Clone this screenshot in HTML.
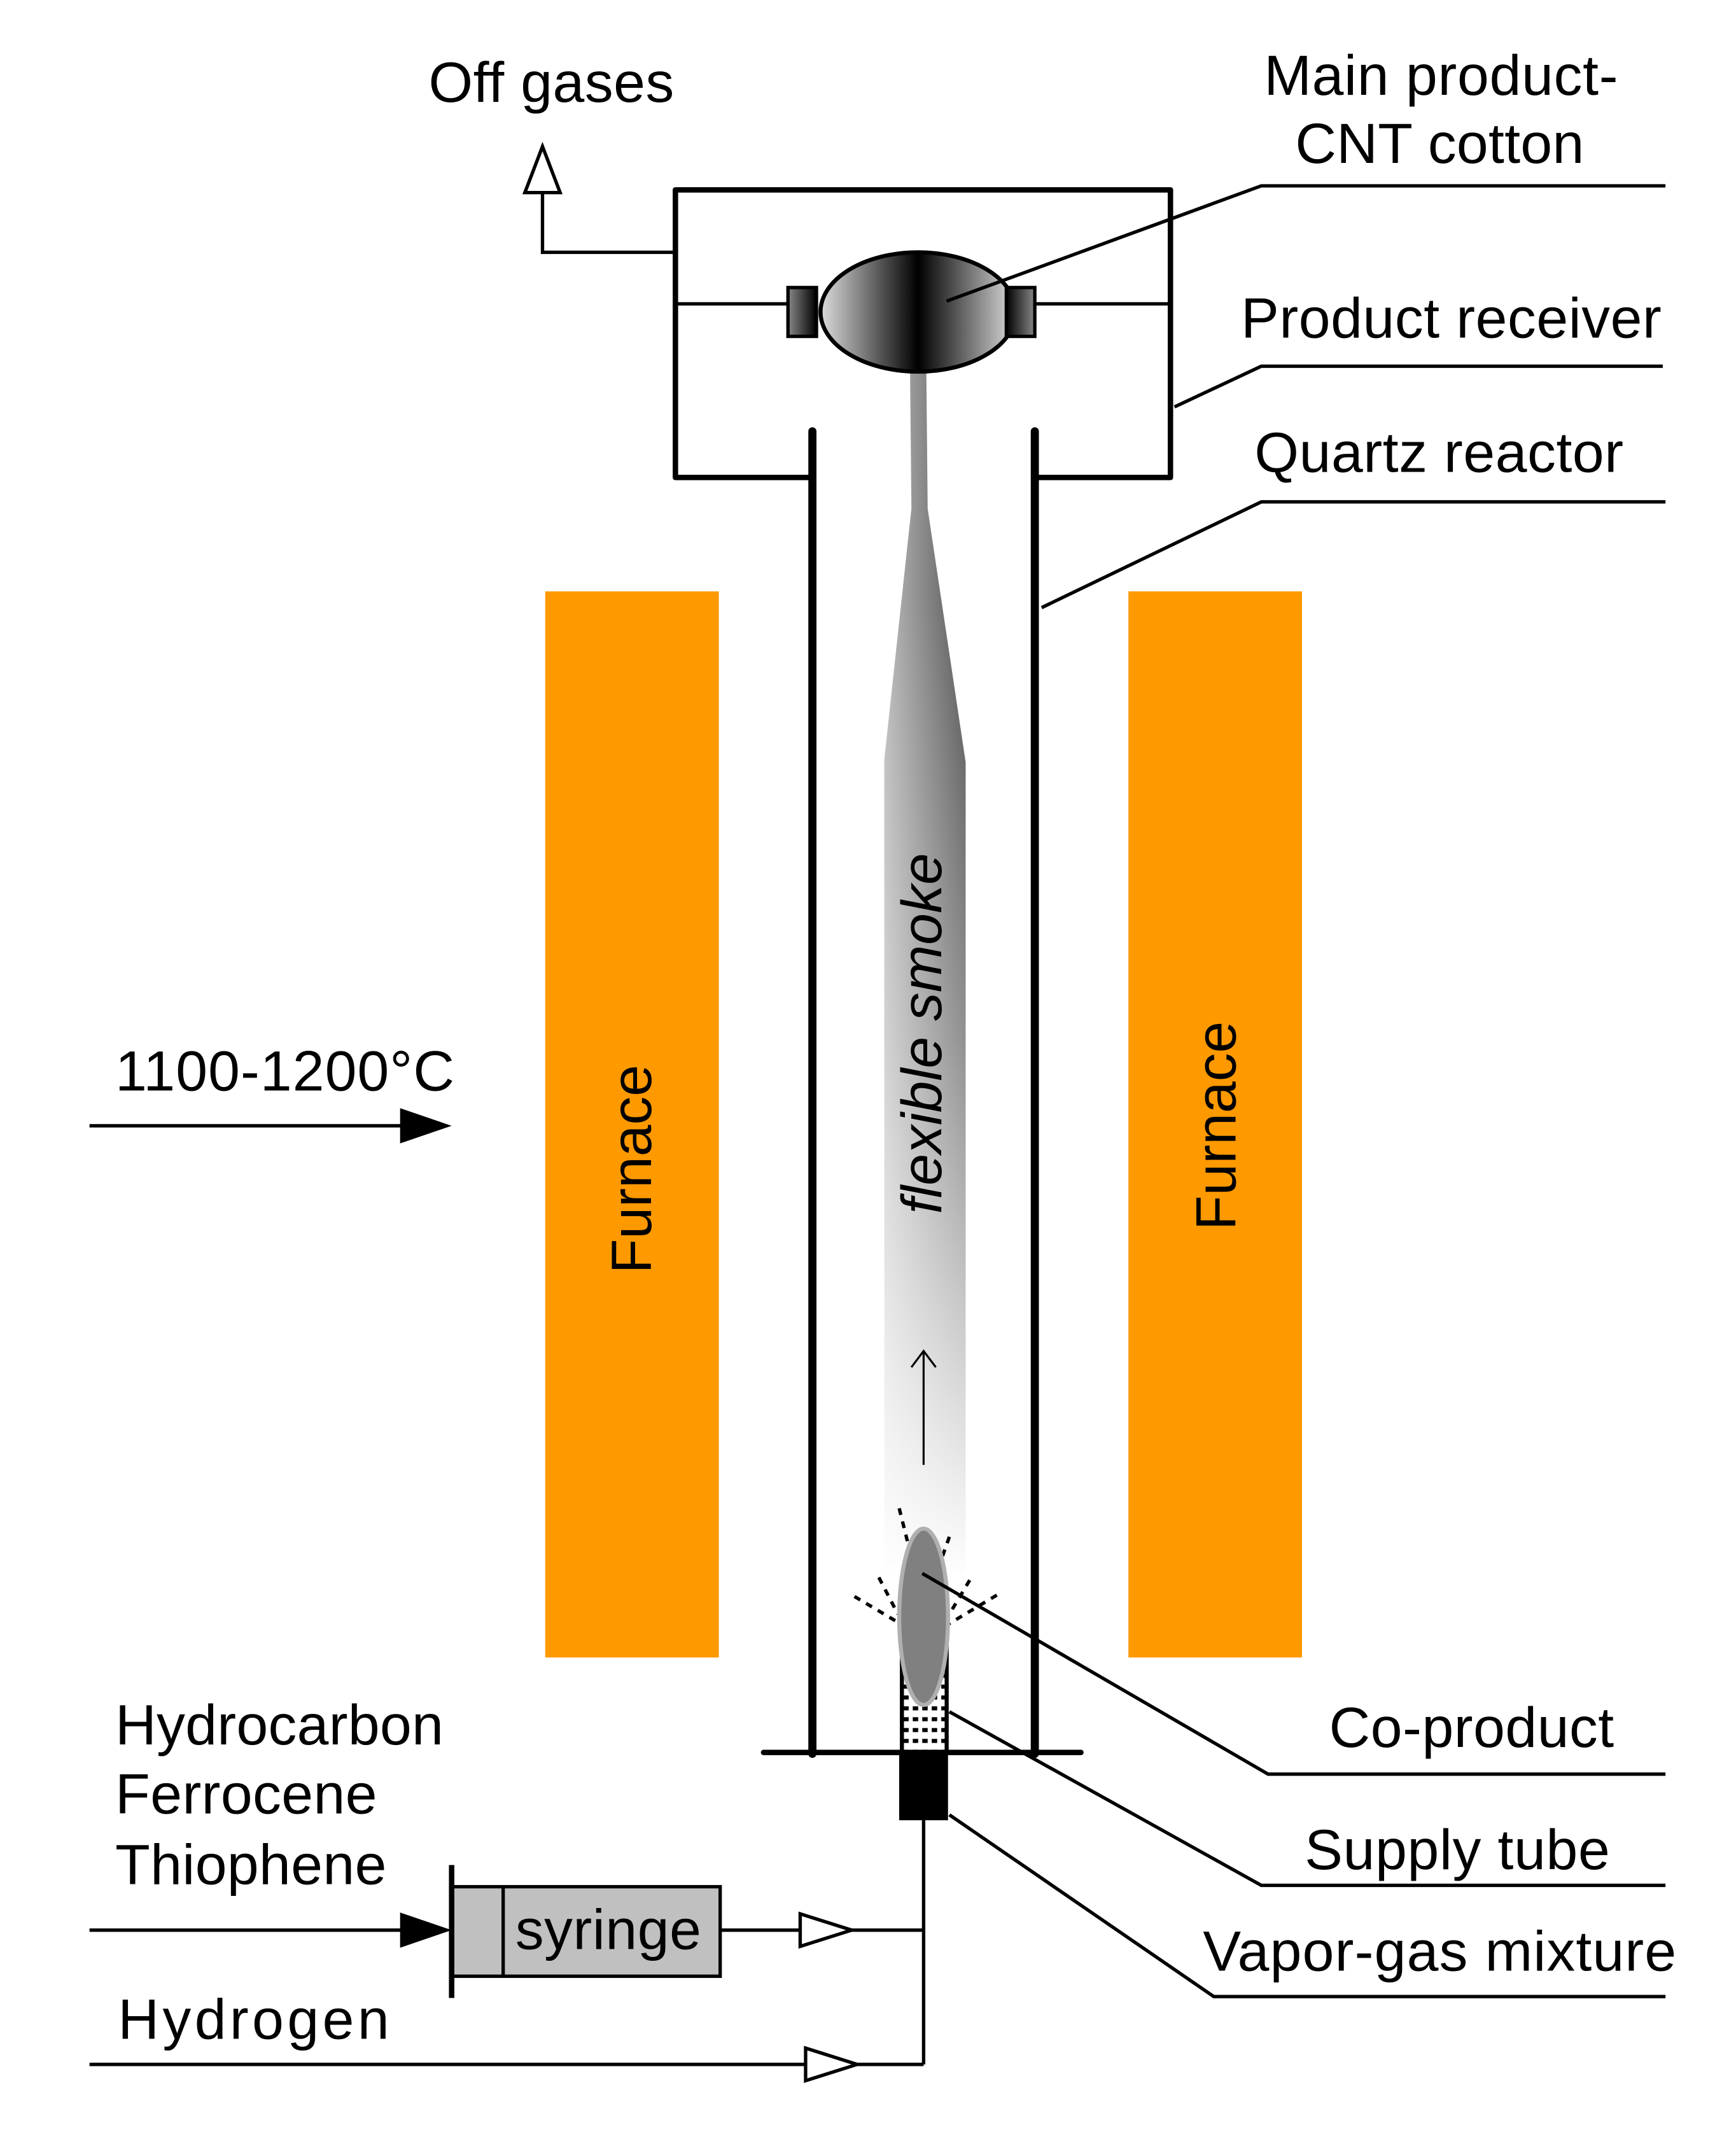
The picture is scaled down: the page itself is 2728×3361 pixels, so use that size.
<!DOCTYPE html>
<html><head><meta charset="utf-8"><style>
html,body{margin:0;padding:0;background:#fff}
svg{display:block}
text{font-family:"Liberation Sans",Arial,sans-serif;font-size:42px;fill:#000}
</style></head><body>
<svg width="2728" height="3361" viewBox="0 0 1280 1577" preserveAspectRatio="none" xmlns="http://www.w3.org/2000/svg">
<defs>
<linearGradient id="cot" x1="0" x2="1" y1="0" y2="0">
<stop offset="0" stop-color="#ddd"/><stop offset="0.5" stop-color="#000"/><stop offset="1" stop-color="#ddd"/></linearGradient>
<linearGradient id="cap" x1="0" x2="1"><stop offset="0" stop-color="#888"/><stop offset="1" stop-color="#000"/></linearGradient>
<linearGradient id="cap2" x1="0" x2="1"><stop offset="0" stop-color="#000"/><stop offset="1" stop-color="#888"/></linearGradient>
<linearGradient id="smh" x1="0" x2="1"><stop offset="0" stop-color="#bbb"/><stop offset="1" stop-color="#555"/></linearGradient>
<linearGradient id="smv" x1="0" x2="0" y1="0" y2="1"><stop offset="0" stop-color="#fff" stop-opacity="0"/><stop offset="0.45" stop-color="#fff" stop-opacity="0.35"/><stop offset="1" stop-color="#fff" stop-opacity="1"/></linearGradient>
<pattern id="dots" width="7" height="8" patternUnits="userSpaceOnUse"><rect x="1" y="2" width="4" height="3" fill="#000"/></pattern>
</defs>
<rect x="402" y="436" width="128" height="786" fill="#FF9900"/>
<rect x="832" y="436" width="128" height="786" fill="#FF9900"/>
<text transform="translate(480,862) rotate(-90)" text-anchor="middle" font-size="43">Furnace</text>
<text transform="translate(911,830) rotate(-90)" text-anchor="middle" font-size="43">Furnace</text>
<path d="M671,274 L683,274 L684,375 L712,562 L712,1160 L652,1160 L652,560 L672,375 Z" fill="url(#smh)"/>
<path d="M640,440 L720,440 L720,1165 L640,1165 Z" fill="url(#smv)"/>
<text transform="translate(694,762) rotate(-90)" text-anchor="middle" font-size="40" font-style="italic">flexible smoke</text>
<line x1="681" y1="1080" x2="681" y2="996" stroke="#000" stroke-width="1.5"/>
<polyline points="672,1008 681,996 690,1008" fill="none" stroke="#000" stroke-width="1.5"/>
<polyline points="599,352 498,352 498,140 863,140 863,352 763,352" fill="none" stroke="#000" stroke-width="4" stroke-linejoin="round"/>
<line x1="498" y1="224" x2="582" y2="224" stroke="#000" stroke-width="2.5"/>
<line x1="763" y1="224" x2="863" y2="224" stroke="#000" stroke-width="2.5"/>
<polyline points="498,186 400,186 400,142" fill="none" stroke="#000" stroke-width="2.5"/>
<polygon points="400,108 387,142 413,142" fill="#fff" stroke="#000" stroke-width="2.5"/>
<ellipse cx="677" cy="230" rx="72" ry="44" fill="url(#cot)" stroke="#000" stroke-width="3"/>
<rect x="581" y="212" width="21" height="36" fill="url(#cap)" stroke="#000" stroke-width="2.5"/>
<rect x="742" y="212" width="21" height="36" fill="url(#cap2)" stroke="#000" stroke-width="2.5"/>
<line x1="599" y1="318" x2="599" y2="1293" stroke="#000" stroke-width="6" stroke-linecap="round"/>
<line x1="763" y1="318" x2="763" y2="1293" stroke="#000" stroke-width="6" stroke-linecap="round"/>
<line x1="563" y1="1292" x2="797" y2="1292" stroke="#000" stroke-width="4" stroke-linecap="round"/>
<rect x="665" y="1210" width="33" height="82" fill="url(#dots)" stroke="#000" stroke-width="3"/>
<rect x="663" y="1292" width="36" height="50" fill="#000"/>
<g stroke="#000" stroke-width="2.5" stroke-dasharray="5,5" fill="none">
<line x1="663" y1="1112" x2="672" y2="1148"/>
<line x1="648" y1="1163" x2="662" y2="1190"/>
<line x1="630" y1="1177" x2="662" y2="1196"/>
<line x1="700" y1="1133" x2="694" y2="1150"/>
<line x1="715" y1="1165" x2="700" y2="1190"/>
<line x1="735" y1="1176" x2="700" y2="1197"/>
</g>
<ellipse cx="681" cy="1192" rx="18" ry="65" fill="#808080" stroke="#b0b0b0" stroke-width="3"/>
<g stroke="#000" stroke-width="2.5" fill="none">
<polyline points="698,222 930,137 1228,137"/>
<polyline points="866,300 930,270 1226,270"/>
<polyline points="768,448 930,370 1228,370"/>
<polyline points="680,1160 935,1308 1228,1308"/>
<polyline points="700,1262 930,1390 1228,1390"/>
<polyline points="700,1338 895,1472 1228,1472"/>
<line x1="681" y1="1342" x2="681" y2="1522"/>
<line x1="531" y1="1423" x2="681" y2="1423"/>
<line x1="66" y1="1522" x2="681" y2="1522"/>
<line x1="66" y1="1423" x2="300" y2="1423"/>
<line x1="66" y1="830" x2="300" y2="830"/>
</g>
<polygon points="295,817 333,830 295,843" fill="#000"/>
<polygon points="295,1410 333,1423 295,1436" fill="#000"/>
<polygon points="590,1411 628,1423 590,1435" fill="#fff" stroke="#000" stroke-width="2.5"/>
<polygon points="594,1510 632,1522 594,1534" fill="#fff" stroke="#000" stroke-width="2.5"/>
<rect x="333" y="1391" width="198" height="66" fill="#c0c0c0" stroke="#000" stroke-width="2.5"/>
<line x1="371" y1="1391" x2="371" y2="1457" stroke="#000" stroke-width="2.5"/>
<line x1="333" y1="1375" x2="333" y2="1473" stroke="#000" stroke-width="4"/>
<text x="380" y="1437" textLength="137">syringe</text>
<text x="316" y="75" textLength="181">Off gases</text>
<text x="932" y="70" textLength="261">Main product-</text>
<text x="955" y="120" textLength="213">CNT cotton</text>
<text x="915" y="249" textLength="310">Product receiver</text>
<text x="925" y="348" textLength="272">Quartz reactor</text>
<text x="85" y="804" textLength="250">1100-1200°C</text>
<text x="980" y="1288" textLength="210">Co-product</text>
<text x="962" y="1378" textLength="225">Supply tube</text>
<text x="887" y="1453" textLength="349">Vapor-gas mixture</text>
<text x="85" y="1286" textLength="242">Hydrocarbon</text>
<text x="85" y="1337" textLength="193">Ferrocene</text>
<text x="85" y="1389" textLength="200">Thiophene</text>
<text x="87" y="1503" font-size="44" textLength="200">Hydrogen</text>
</svg>
</body></html>
